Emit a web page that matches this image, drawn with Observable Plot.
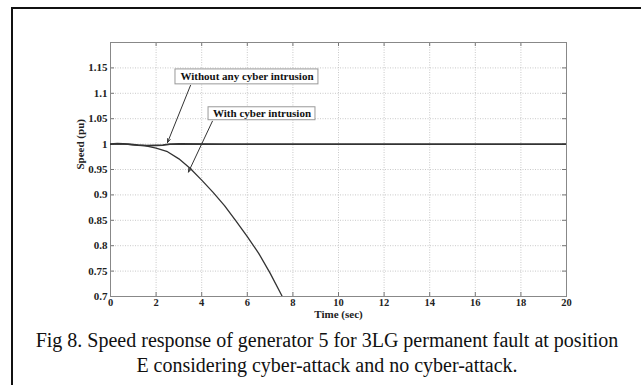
<!DOCTYPE html>
<html><head><meta charset="utf-8">
<script src="https://cdn.jsdelivr.net/npm/d3@7"></script>
<script src="https://cdn.jsdelivr.net/npm/@observablehq/plot@0.6"></script>
<style>
html,body{margin:0;padding:0;background:#fff;}
#fig{position:relative;width:641px;height:385px;overflow:hidden;background:#fff;}
#topline{position:absolute;left:11px;top:7px;width:630px;height:2px;background:#111;}
#leftline{position:absolute;left:11px;top:7px;width:2px;height:378px;background:#111;}
#chart{position:absolute;left:0;top:0;}
#caption{position:absolute;left:13px;width:628px;top:328px;text-align:center;font-family:"Liberation Serif","Times New Roman",serif;font-size:20px;line-height:25px;color:#111;}
</style>
</head><body>
<div id="fig">
  <div id="chart"></div>
  <div id="topline"></div>
  <div id="leftline"></div>
  <div id="caption">Fig 8. Speed response of generator 5 for 3LG permanent fault at position<br>E considering cyber-attack and no cyber-attack.</div>
</div>
<script>
// Time ticks and speed ticks
const xTicks = [0, 2, 4, 6, 8, 10, 12, 14, 16, 18, 20];
const yTicks = [0.7, 0.75, 0.8, 0.85, 0.9, 0.95, 1, 1.05, 1.1, 1.15];
const yTickLabels = ["0.7", "0.75", "0.8", "0.85", "0.9", "0.95", "1", "1.05", "1.1", "1.15"];

// Series: without any cyber intrusion
const timeNoAttack  = [0, 0.3, 0.8, 1.2, 1.6, 2.0, 2.3, 2.6, 3.0, 5, 10, 15, 20];
const speedNoAttack = [1.0, 1.001, 1.0, 0.998, 0.997, 0.9975, 0.998, 1.0, 1.0005, 1.0, 1.0, 1.0, 1.0];

// Series: with cyber intrusion
const timeAttack  = [0, 0.5, 1.0, 1.5, 2.0, 2.5, 3.0, 3.5, 4.0, 4.5, 5.0, 5.5, 6.0, 6.5, 7.0, 7.5, 7.53];
const speedAttack = [1.0, 1.0005, 0.9985, 0.997, 0.992, 0.985, 0.971, 0.952, 0.929, 0.905, 0.879, 0.849, 0.818, 0.785, 0.746, 0.703, 0.7];

// Annotations
const noteLabels = ["Without any cyber intrusion", "With cyber intrusion"];
const noteBoxes = [
  {x1: 2.85, x2: 9.12, y1: 1.1176, y2: 1.147},
  {x1: 4.30, x2: 8.99, y1: 1.047, y2: 1.0725}
];
const noteArrows = [
  {x1: 3.51, y1: 1.1157, x2: 2.5, y2: 1.003},
  {x1: 4.47, y1: 1.0451, x2: 3.42, y2: 0.945}
];

const noAttack = timeNoAttack.map((t, i) => ({t, v: speedNoAttack[i]}));
const attack = timeAttack.map((t, i) => ({t, v: speedAttack[i]}));
const notes = noteLabels.map((label, i) => ({label, ...noteBoxes[i]}));

const W = 641, H = 330;
const mL = 110, mR = 75, mT = 42, mB = 34;
const pw = W - mL - mR, ph = H - mT - mB;
const grid = {stroke: "#bbb", strokeDasharray: "1,1.5", strokeWidth: 0.8};
const tk = {stroke: "#777", strokeWidth: 1};

const plot = Plot.plot({
  width: W, height: H,
  marginLeft: mL, marginRight: mR, marginTop: mT, marginBottom: mB,
  style: {fontFamily: "'Liberation Serif','Times New Roman',serif", fontSize: "11px", fontWeight: "bold", color: "#222", background: "transparent"},
  x: {domain: [0, 20]},
  y: {domain: [0.7, 1.2]},
  marks: [
    Plot.ruleX(xTicks.slice(1, -1), {x: d => d, ...grid}),
    Plot.ruleY(yTicks.slice(1), {y: d => d, ...grid}),
    Plot.tickX(xTicks, {x: d => d, insetTop: ph - 4, ...tk}),
    Plot.tickX(xTicks, {x: d => d, insetBottom: ph - 4, ...tk}),
    Plot.tickY(yTicks, {y: d => d, insetRight: pw - 4, ...tk}),
    Plot.tickY(yTicks, {y: d => d, insetLeft: pw - 4, ...tk}),
    Plot.frame({stroke: "#888", strokeWidth: 1}),
    Plot.line(attack, {x: "t", y: "v", stroke: "#333", strokeWidth: 1.3, clip: true}),
    Plot.line(noAttack, {x: "t", y: "v", stroke: "#333", strokeWidth: 1.6, clip: true}),
    Plot.arrow(noteArrows, {x1: "x1", y1: "y1", x2: "x2", y2: "y2", stroke: "#333", strokeWidth: 1, headLength: 6, headAngle: 40}),
    Plot.rect(notes, {x1: "x1", x2: "x2", y1: "y1", y2: "y2", fill: "white", stroke: "#999", strokeWidth: 1}),
    Plot.text(notes, {x: d => (d.x1 + d.x2) / 2, y: d => (d.y1 + d.y2) / 2, text: "label", fill: "#111", fontSize: 11, fontWeight: "bold"}),
    Plot.axisX(xTicks, {tickSize: 0, tickPadding: 2, label: null, fill: "#222", fontSize: 10.5}),
    Plot.axisY(yTicks, {tickSize: 0, tickPadding: 3, label: null, tickFormat: (d, i) => yTickLabels[i], fill: "#222"}),
    Plot.text(["Speed (pu)"], {frameAnchor: "left", dx: -30, rotate: -90, fill: "#222", fontSize: 11, fontWeight: "bold"}),
    Plot.text(["Time (sec)"], {frameAnchor: "bottom", dy: 21, fill: "#222", fontSize: 11, fontWeight: "bold"})
  ]
});
document.getElementById("chart").appendChild(plot);
</script>
</body></html>
